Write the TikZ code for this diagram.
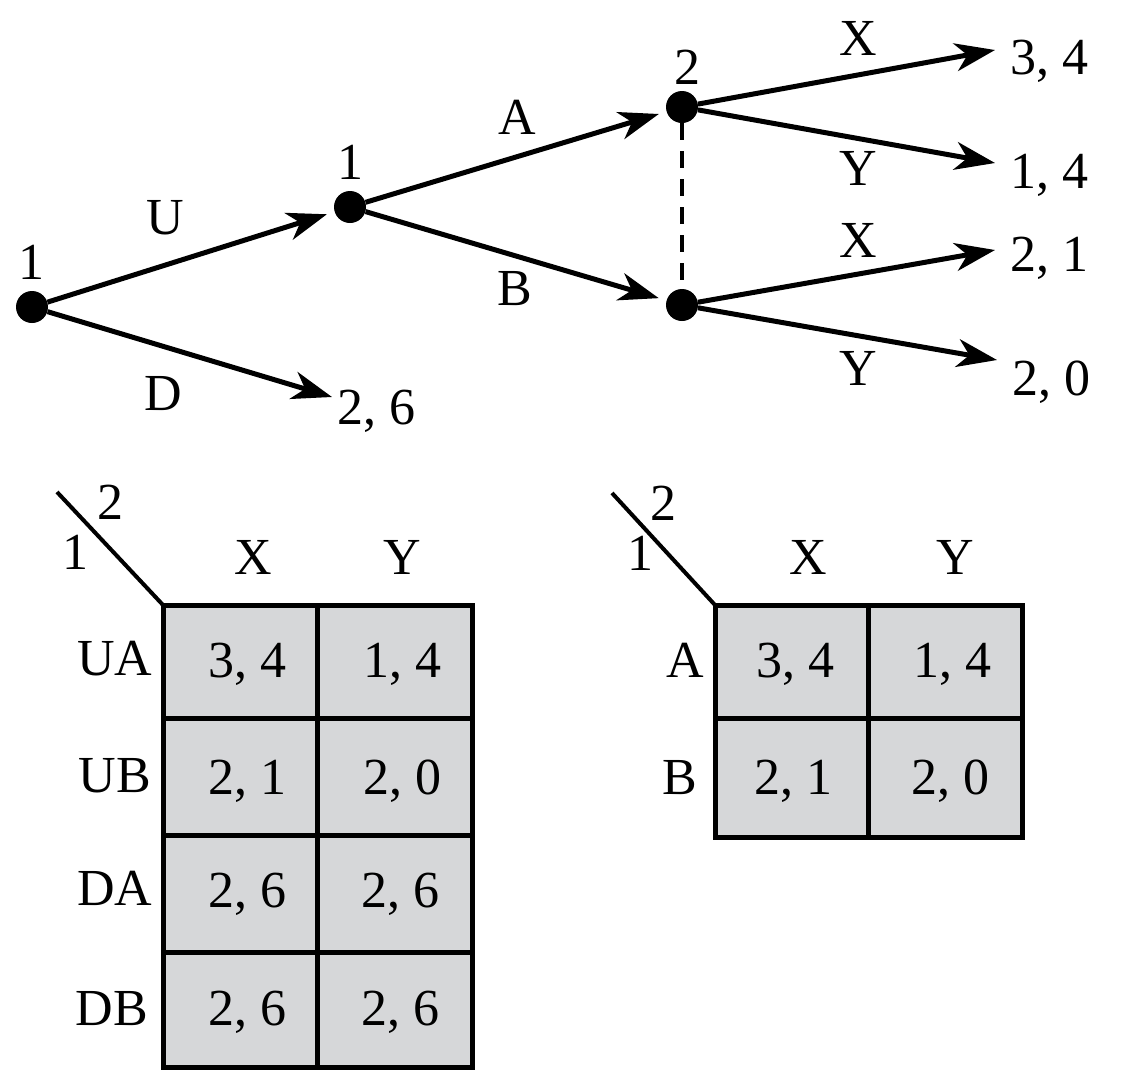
\documentclass[tikz,border=0pt]{standalone}
\usepackage{fontspec}
\setmainfont{Liberation Serif}
\usetikzlibrary{arrows.meta}
\definecolor{cellgray}{RGB}{214,215,217}
\begin{document}
\begin{tikzpicture}[x=1pt,y=-1pt,
  every node/.style={font=\fontsize{52}{60}\selectfont, text depth=0pt, inner sep=0pt},
  dec/.style={circle, fill=black, minimum size=32pt, inner sep=0pt},
  move/.style={line width=5pt, -{Stealth[length=40pt,width=28pt,inset=12pt]}, shorten >=8pt},
  tomove/.style={move, shorten >=0pt},
  payoff/.style={anchor=west, inner xsep=15pt},
  grid/.style={line width=5pt},
  diag/.style={line width=4pt},
  info/.style={line width=4pt, dash pattern=on 17pt off 11pt},
]
\useasboundingbox (0,0) rectangle (1128,1080);

% ---------- game tree ----------
\node[dec] (r) at (32,307) {};
\node[dec] (a) at (350,207) {};
\node[dec] (b) at (682,107) {};
\node[dec] (c) at (682,305) {};

\node (lr) at (32,262) {1};
\node (la) at (350,162) {1};
\node (lb) at (687,67) {2};

\node[payoff] (p1) at (995,57) {3, 4};
\node[payoff] (p2) at (995,171) {1, 4};
\node[payoff] (p3) at (995,254) {2, 1};
\node[payoff] (p4) at (997,378) {2, 0};
\node[payoff, inner xsep=5pt] (p5) at (332,407) {2, 6};

\draw[move] (r) -- (a);
\draw[tomove] (r) -- ([yshift=10pt]p5.west);
\draw[move] (a) -- (b);
\draw[move] (a) -- (c);
\draw[tomove] (b) -- ([yshift=7pt]p1.west);
\draw[tomove] (b) -- ([yshift=8pt]p2.west);
\draw[tomove] (c) -- ([yshift=4pt]p3.west);
\draw[tomove] (c) -- ([yshift=18pt]p4.west);
\draw[info] (b) -- (c);

\node (lU) at (165,217) {U};
\node (lD) at (163,393) {D};
\node (lA) at (517,117) {A};
\node (lB) at (515,288) {B};
\node (lX1) at (858,38) {X};
\node (lY1) at (858,168) {Y};
\node (lX2) at (858,240) {X};
\node (lY2) at (858,368) {Y};

% ---------- left table ----------
\fill[cellgray] (163,605) rectangle (472,1067);
\draw[grid] (163,605) rectangle (472,1067);
\draw[grid] (317,605) -- (317,1067);
\draw[grid] (163,718) -- (472,718);
\draw[grid] (163,835) -- (472,835);
\draw[grid] (163,952) -- (472,952);
\draw[diag] (57,492) -- (163,605);
\node (t1p2) at (110,502) {2};
\node (t1p1) at (75,552) {1};
\node (t1X) at (253,557) {X};
\node (t1Y) at (402,557) {Y};
\node (t1UA) at (115,658) {UA};
\node (t1UB) at (115,775) {UB};
\node (t1DA) at (115,888) {DA};
\node (t1DB) at (112,1008) {DB};
\node (c11) at (247,660) {3, 4};
\node (c12) at (402,660) {1, 4};
\node (c21) at (247,777) {2, 1};
\node (c22) at (402,777) {2, 0};
\node (c31) at (247,890) {2, 6};
\node (c32) at (400,890) {2, 6};
\node (c41) at (247,1008) {2, 6};
\node (c42) at (400,1008) {2, 6};

% ---------- right table ----------
\fill[cellgray] (715,605) rectangle (1022,837);
\draw[grid] (715,605) rectangle (1022,837);
\draw[grid] (868,605) -- (868,837);
\draw[grid] (715,718) -- (1022,718);
\draw[diag] (612,493) -- (715,605);
\node (t2p2) at (663,503) {2};
\node (t2p1) at (640,553) {1};
\node (t2X) at (808,557) {X};
\node (t2Y) at (955,557) {Y};
\node (t2A) at (685,660) {A};
\node (t2B) at (680,777) {B};
\node (d11) at (795,660) {3, 4};
\node (d12) at (952,660) {1, 4};
\node (d21) at (793,777) {2, 1};
\node (d22) at (950,777) {2, 0};
\end{tikzpicture}
\end{document}
